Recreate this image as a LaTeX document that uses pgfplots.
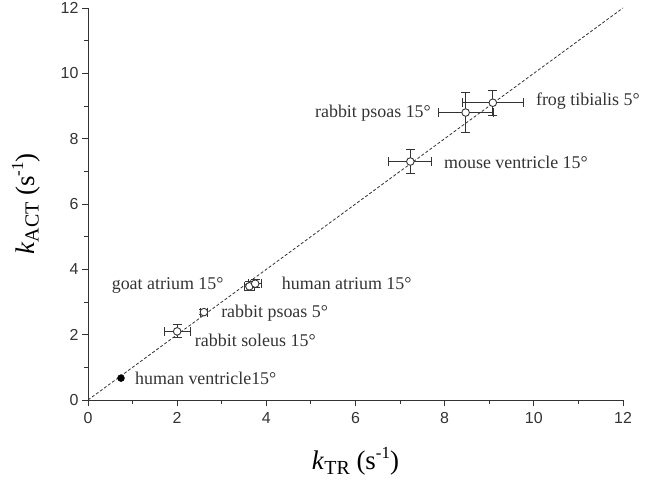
\documentclass[border=0pt]{standalone}
\usepackage{fontspec}
\setmainfont{Liberation Serif}
\newfontfamily\sansf{Liberation Sans}
\usepackage{pgfplots}
\pgfplotsset{compat=1.18}
\definecolor{ink}{HTML}{333333}
\tikzset{lbl/.style={font=\fontsize{18}{20}\selectfont, text=ink, inner sep=2bp}}
\begin{document}
\begin{tikzpicture}
\useasboundingbox (-88bp,-85bp) rectangle (558bp,400bp);
\begin{axis}[
  scale only axis, width=535bp, height=392bp,
  xmin=0, xmax=12, ymin=0, ymax=12,
  axis lines*=left,
  axis line style={ink, line width=0.9bp},
  xtick={0,2,...,12}, ytick={0,2,...,12},
  minor tick num=1,
  tick align=outside,
  tick style={ink, line width=0.9bp},
  major tick length=6bp, minor tick length=4bp,
  /pgf/number format/assume math mode=true,
  tick label style={font=\sansf\fontsize{16}{16}\selectfont, text=ink},
  xticklabel style={yshift=-3bp},
  xlabel={\fontsize{27}{29}\selectfont\textit{k}\raisebox{-0.35ex}{\fontsize{20}{20}\selectfont TR} (s\raisebox{0.9ex}{\fontsize{17}{17}\selectfont -1})},
  ylabel={\fontsize{27}{29}\selectfont\textit{k}\raisebox{-0.35ex}{\fontsize{20}{20}\selectfont ACT} (s\raisebox{0.9ex}{\fontsize{17}{17}\selectfont -1})},
  xlabel style={yshift=-17bp},
  ylabel style={yshift=14bp},
  clip=false,
]
\addplot[ink, densely dashed, line width=0.8bp, forget plot] coordinates {(0,0) (12,12)};
\addplot[only marks, mark=*, mark size=3.8bp,
  mark options={fill=white, draw=ink, line width=0.9bp},
  error bars/.cd, x dir=both, x explicit, y dir=both, y explicit,
  error bar style={ink, line width=0.9bp},
  error mark options={ink, rotate=90, mark size=4.5bp, line width=0.9bp}]
  coordinates {
  (2.00,2.10) +- (0.29,0.20)
  (2.60,2.69) +- (0.08,0.08)
  (3.62,3.48) +- (0.12,0.14)
  (3.75,3.56) +- (0.15,0.12)
  (7.23,7.30) +- (0.48,0.37)
  (8.47,8.80) +- (0.62,0.61)
  (9.08,9.10) +- (0.68,0.39)
  };
\addplot[only marks, mark=*, mark size=3.5bp, mark options={fill=black, draw=black}]
  coordinates {(0.74,0.67)};
\node[lbl, anchor=west] at (axis cs:10.0,9.15) {frog tibialis 5°};
\node[lbl, anchor=east] at (axis cs:7.74,8.78) {rabbit psoas 15°};
\node[lbl, anchor=west] at (axis cs:7.94,7.28) {mouse ventricle 15°};
\node[lbl, anchor=west] at (axis cs:4.30,3.58) {human atrium 15°};
\node[lbl, anchor=east] at (axis cs:3.09,3.52) {goat atrium 15°};
\node[lbl, anchor=west] at (axis cs:2.94,2.66) {rabbit psoas 5°};
\node[lbl, anchor=west] at (axis cs:2.35,1.84) {rabbit soleus 15°};
\node[lbl, anchor=west] at (axis cs:1.01,0.67) {human ventricle15°};
\end{axis}
\end{tikzpicture}
\end{document}
